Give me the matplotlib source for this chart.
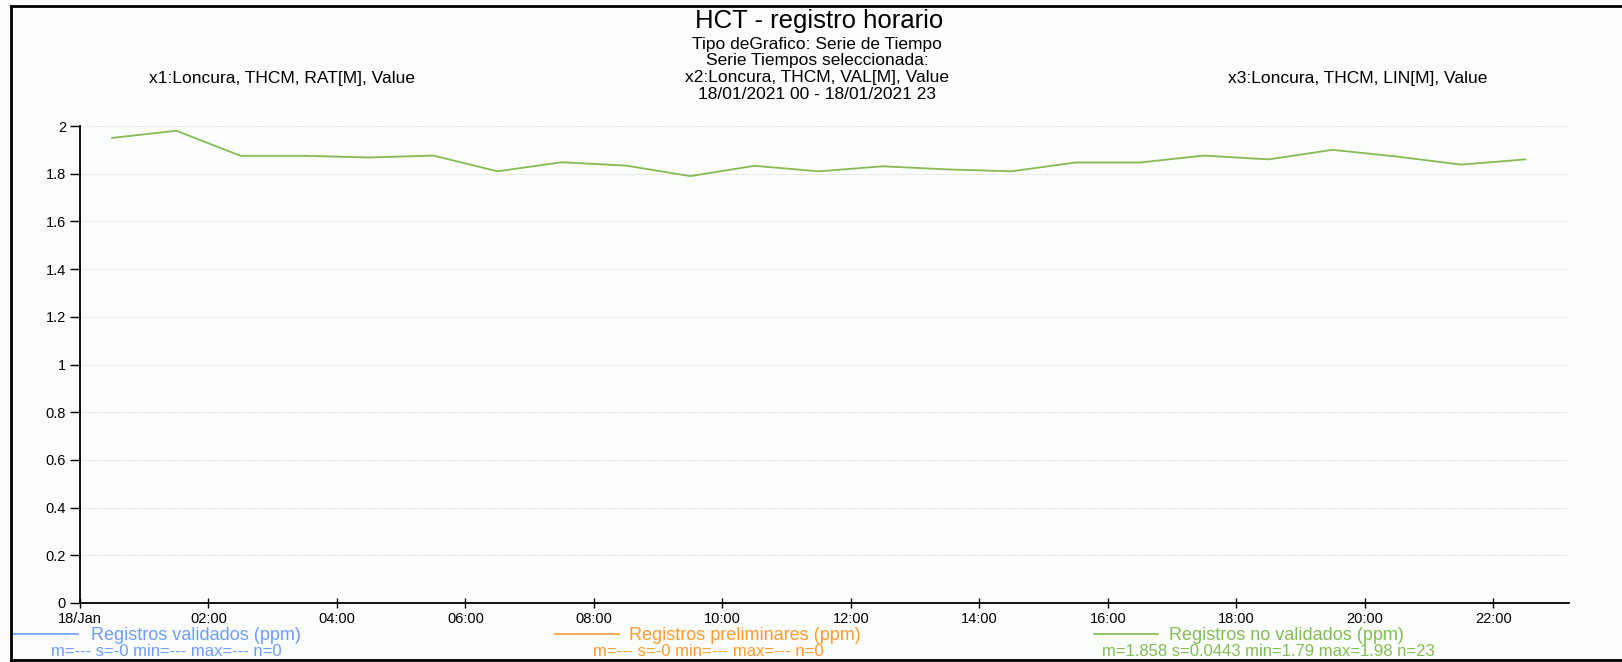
import matplotlib
matplotlib.use("Agg")
import matplotlib.pyplot as plt
from matplotlib.lines import Line2D

plt.rcParams['font.family'] = ['Liberation Sans', 'DejaVu Sans']

W, H = 1622, 662

# hourly records (hour of day, middle of each hour)
hours = [0.5, 1.5, 2.5, 3.5, 4.5, 5.5, 6.5, 7.5, 8.5, 9.5, 10.5, 11.5,
         12.5, 13.5, 14.5, 15.5, 16.5, 17.5, 18.5, 19.5, 20.5, 21.5, 22.5]
no_validados = [1.95, 1.98, 1.875, 1.875, 1.868, 1.876, 1.81, 1.848, 1.834, 1.79,
                1.833, 1.81, 1.831, 1.818, 1.81, 1.847, 1.847, 1.876, 1.86, 1.9,
                1.872, 1.838, 1.86]
validados = []
preliminares = []

tick_hours = [0, 2, 4, 6, 8, 10, 12, 14, 16, 18, 20, 22]
tick_labels = ['18/Jan', '02:00', '04:00', '06:00', '08:00', '10:00',
               '12:00', '14:00', '16:00', '18:00', '20:00', '22:00']
y_ticks = [0, 0.2, 0.4, 0.6, 0.8, 1, 1.2, 1.4, 1.6, 1.8, 2]
y_labels = ['0', '0.2', '0.4', '0.6', '0.8', '1', '1.2', '1.4', '1.6', '1.8', '2']

title = 'HCT - registro horario'
subtitles = ['Tipo deGrafico: Serie de Tiempo', 'Serie Tiempos seleccionada:',
             'x2:Loncura, THCM, VAL[M], Value', '18/01/2021 00 - 18/01/2021 23']
x1_label = 'x1:Loncura, THCM, RAT[M], Value'
x3_label = 'x3:Loncura, THCM, LIN[M], Value'

legend_names = ['Registros validados (ppm)', 'Registros preliminares (ppm)',
                'Registros no validados (ppm)']
legend_stats = ['m=--- s=-0 min=--- max=--- n=0', 'm=--- s=-0 min=--- max=--- n=0',
                'm=1.858 s=0.0443 min=1.79 max=1.98 n=23']
colors = ['#6e9bff', '#ff9a2e', '#84bb55']

bg = '#fbfdfb'
fig = plt.figure(figsize=(W / 100, H / 100), dpi=100, facecolor=bg)

def fx(x):
    return x / W

def fy(y):
    return 1 - y / H

ax = fig.add_axes([fx(80), fy(603), fx(1569) - fx(80), fy(126) - fy(603)])
ax.set_facecolor(bg)

ax.plot(hours[:len(validados)], validados, color=colors[0], lw=1.2)
ax.plot(hours[:len(preliminares)], preliminares, color=colors[1], lw=1.2)
ax.plot(hours, no_validados, color=colors[2], lw=1.3)

ax.set_xlim(0, 23.18)
ax.set_ylim(0, 2)
ax.set_xticks(tick_hours)
ax.set_xticklabels(tick_labels)
ax.set_yticks(y_ticks)
ax.set_yticklabels(y_labels)
ax.tick_params(axis='x', direction='inout', length=7, width=1, labelsize=10.5, pad=3)
ax.tick_params(axis='y', direction='out', length=7, width=1, labelsize=10.5, pad=3)
ax.grid(axis='y', color='#d8d8d8', lw=0.8, ls=(0, (1, 1)))
ax.set_axisbelow(True)
for s in ['top', 'right']:
    ax.spines[s].set_visible(False)
for s in ['left', 'bottom']:
    ax.spines[s].set_linewidth(1.3)

# header texts
fig.text(fx(819), fy(21), title, ha='center', va='center', fontsize=18.5)
for i, line in enumerate(subtitles):
    fig.text(fx(817), fy(44 + 16.9 * i), line, ha='center', va='center', fontsize=12.5)
fig.text(fx(282), fy(78), x1_label, ha='center', va='center', fontsize=12.5)
fig.text(fx(1358), fy(78), x3_label, ha='center', va='center', fontsize=12.5)

# legend at bottom
line_x = [(12, 78), (555, 619), (1094, 1158)]
text_x = [91, 629, 1169]
stats_x = [166, 708, 1268]
for i in range(3):
    fig.add_artist(Line2D([fx(line_x[i][0]), fx(line_x[i][1])], [fy(634), fy(634)],
                          transform=fig.transFigure, color=colors[i], lw=1.2))
    fig.text(fx(text_x[i]), fy(636), legend_names[i], ha='left', va='center',
             fontsize=13, color=colors[i])
    fig.text(fx(stats_x[i]), fy(652), legend_stats[i], ha='center', va='center',
             fontsize=12, color=colors[i])

# outer frame (top, left, bottom)
for xs, ys in [((11, W), (5.5, 5.5)), ((11, 11), (5.5, 660)), ((11, W), (660, 660))]:
    fig.add_artist(Line2D([fx(xs[0]), fx(xs[1])], [fy(ys[0]), fy(ys[1])],
                          transform=fig.transFigure, color='black', lw=2))

fig.savefig('out.png', dpi=100, facecolor=bg)
